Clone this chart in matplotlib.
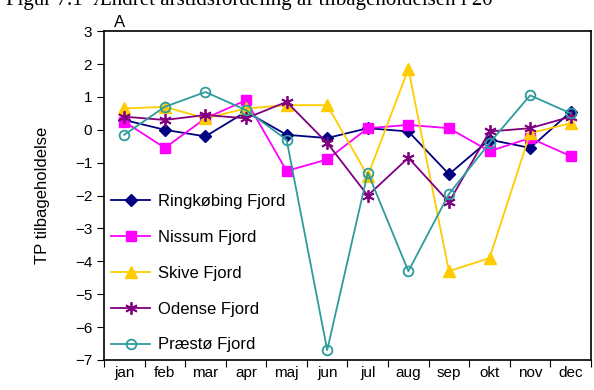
import matplotlib
matplotlib.use("Agg")
import matplotlib.pyplot as plt

months = ["jan", "feb", "mar", "apr", "maj", "jun", "jul", "aug", "sep", "okt", "nov", "dec"]

ringkobing = [0.3, 0.0, -0.2, 0.55, -0.15, -0.25, 0.05, -0.05, -1.35, -0.3, -0.55, 0.55]
nissum = [0.25, -0.55, 0.35, 0.9, -1.25, -0.9, 0.05, 0.15, 0.05, -0.65, -0.25, -0.8]
skive = [0.65, 0.7, 0.35, 0.65, 0.75, 0.75, -1.4, 1.85, -4.3, -3.9, -0.1, 0.2]
odense = [0.4, 0.3, 0.45, 0.35, 0.85, -0.4, -2.0, -0.85, -2.2, -0.05, 0.05, 0.4]
praesto = [-0.15, 0.7, 1.15, 0.6, -0.3, -6.7, -1.3, -4.3, -1.95, -0.4, 1.05, 0.5]

names = ["Ringkøbing Fjord", "Nissum Fjord", "Skive Fjord", "Odense Fjord", "Præstø Fjord"]

plt.rcParams["font.family"] = ["Liberation Sans", "DejaVu Sans"]

fig = plt.figure(figsize=(5.94, 3.9), dpi=100)
ax = fig.add_axes([0.175, 0.077, 0.82, 0.843])

x = [i + 0.5 for i in range(12)]
ax.plot(x, ringkobing, color="#000080", marker="D", ms=6.5, lw=1.3, label=names[0])
ax.plot(x, nissum, color="#ff00ff", marker="s", ms=7, lw=1.3, label=names[1])
ax.plot(x, skive, color="#ffcc00", marker="^", ms=8, lw=1.3, label=names[2])
ax.plot(x, odense, color="#800080", marker=(6, 2, 0), ms=9, mew=1.3, lw=1.3, label=names[3])
ax.plot(x, praesto, color="#2e9c9c", marker="o", ms=7, mfc="none", mew=1.3, lw=1.3, label=names[4])

ax.set_xlim(0, 12)
ax.set_ylim(-7, 3)
ax.set_xticks(range(13))
ax.set_xticklabels([])
ax.set_xticks(x, minor=True)
ax.set_xticklabels(months, minor=True, fontsize=11)
ax.tick_params(axis="x", which="minor", length=0, pad=4)
ax.tick_params(axis="x", which="major", length=5, direction="out")
ax.set_yticks(range(-7, 4))
ax.tick_params(axis="y", labelsize=11, length=5)
ax.set_ylabel("TP tilbageholdelse", fontsize=12, labelpad=18)
for s in ax.spines.values():
    s.set_linewidth(1.2)

ax.legend(loc="lower left", frameon=False, fontsize=12, handlelength=2.3,
          labelspacing=1.25, borderaxespad=0.05, handletextpad=0.5)

ax.text(0.02, 1.004, "A", transform=ax.transAxes, fontsize=12, va="bottom")
fig.text(0.01, 1 - 5 / 390, "Figur 7.1  Ændret årstidsfordeling af tilbageholdelsen i 20",
         family="Liberation Serif", fontsize=15, va="baseline")

fig.savefig("out.png", dpi=100)
